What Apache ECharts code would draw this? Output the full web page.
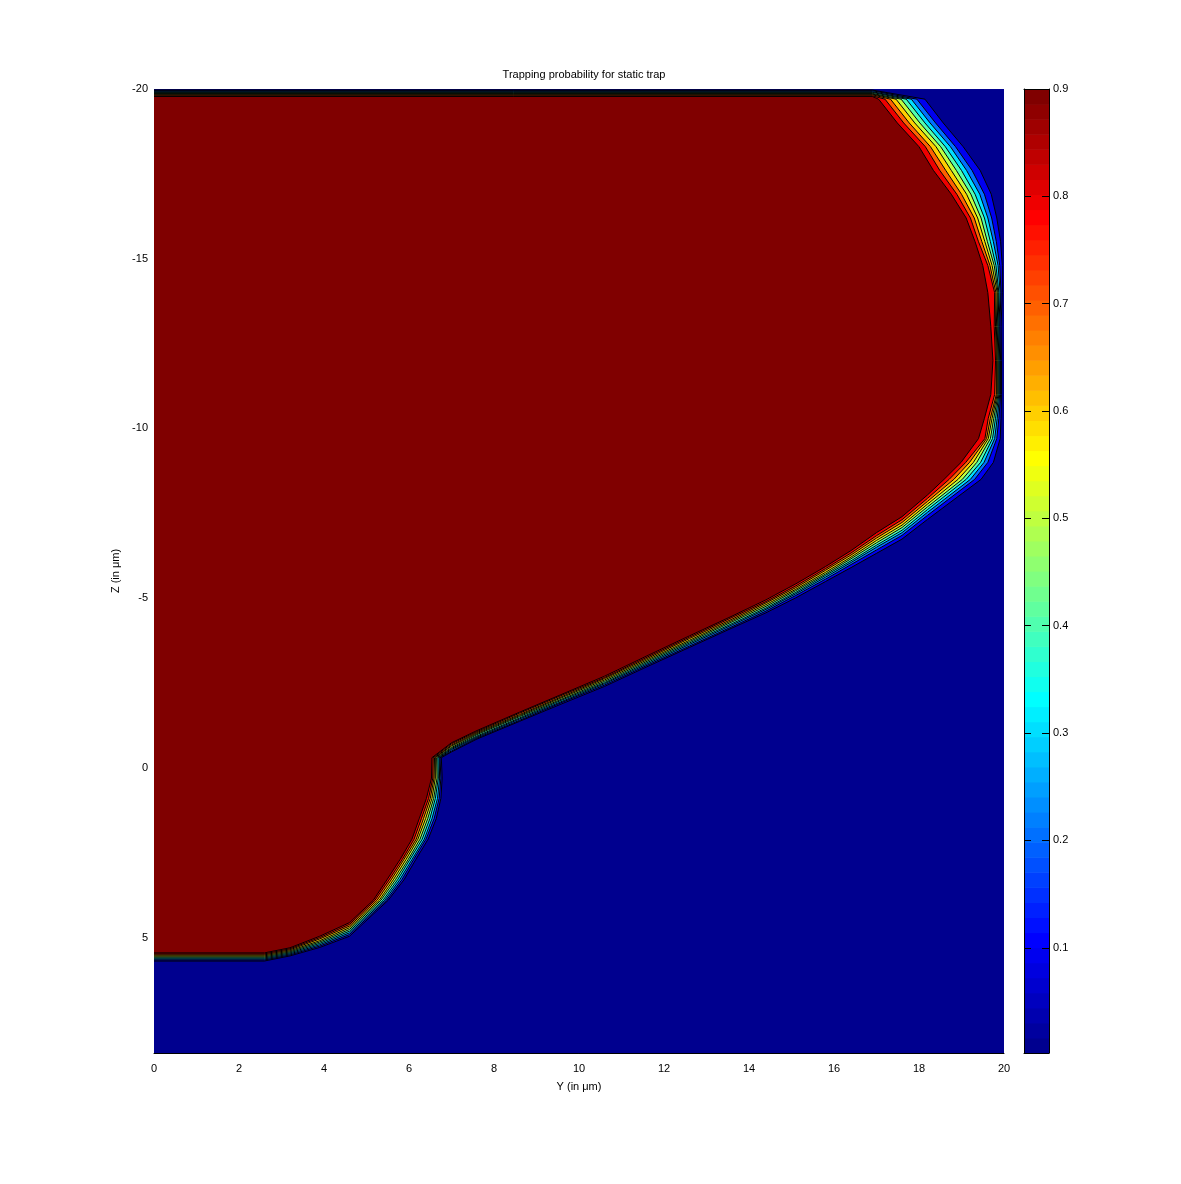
<!DOCTYPE html>
<html>
<head>
<meta charset="utf-8">
<script src="https://cdn.jsdelivr.net/npm/echarts@6.0.0/dist/echarts.min.js"></script>
<style>
  html, body { margin: 0; padding: 0; background: #fff; }
  #main { width: 1181px; height: 1184px; }
</style>
</head>
<body>
<div id="main"></div>
<script>
// contour levels and colour limits
var levels = [0.1, 0.2, 0.3, 0.4, 0.5, 0.6, 0.7, 0.8, 0.9];
var cMin = 0.002;
var cMax = 0.9;

var yTicks = [0, 2, 4, 6, 8, 10, 12, 14, 16, 18, 20];
var zTicks = [-20, -15, -10, -5, 0, 5];
var barTicks = [0.1, 0.2, 0.3, 0.4, 0.5, 0.6, 0.7, 0.8, 0.9];

// contour crossings
// each row: [fixed coord, crossing of level 0.1, 0.2, ... 0.9]
// "Cols" = fixed Y, values are Z ; "Rows" = fixed Z, values are Y
var topCols = [
  [0,    -19.97, -19.95, -19.92, -19.90, -19.87, -19.85, -19.83, -19.80, -19.78],
  [16.9, -19.97, -19.95, -19.92, -19.90, -19.87, -19.85, -19.83, -19.80, -19.78]
];
var rightRows = [
  [-19.7, 18.14, 17.95, 17.82, 17.70, 17.58, 17.46, 17.33, 17.20, 17.05],
  [-19.0, 18.57, 18.39, 18.26, 18.14, 18.02, 17.90, 17.77, 17.64, 17.49],
  [-18.3, 19.04, 18.86, 18.74, 18.62, 18.51, 18.40, 18.27, 18.15, 18.00],
  [-17.6, 19.44, 19.25, 19.12, 19.00, 18.88, 18.76, 18.63, 18.49, 18.34],
  [-16.9, 19.70, 19.54, 19.43, 19.32, 19.22, 19.12, 19.00, 18.89, 18.76],
  [-16.2, 19.83, 19.71, 19.62, 19.54, 19.46, 19.38, 19.30, 19.21, 19.11],
  [-15.5, 19.92, 19.82, 19.75, 19.68, 19.61, 19.55, 19.48, 19.40, 19.32],
  [-14.8, 19.96, 19.90, 19.86, 19.81, 19.77, 19.72, 19.67, 19.62, 19.50],
  [-14.0, 19.96, 19.93, 19.91, 19.88, 19.86, 19.84, 19.81, 19.78, 19.62],
  [-13.0, 19.93, 19.90, 19.88, 19.86, 19.84, 19.82, 19.80, 19.77, 19.69],
  [-12.0, 19.94, 19.92, 19.90, 19.88, 19.86, 19.84, 19.82, 19.80, 19.74],
  [-11.0, 19.94, 19.92, 19.90, 19.88, 19.86, 19.84, 19.82, 19.78, 19.69],
  [-10.3, 19.93, 19.88, 19.84, 19.80, 19.76, 19.72, 19.68, 19.63, 19.54],
  [-9.7,  19.91, 19.83, 19.78, 19.73, 19.68, 19.63, 19.59, 19.55, 19.40],
  [-9.0,  19.75, 19.62, 19.53, 19.45, 19.36, 19.28, 19.19, 19.10, 18.99],
  [-8.5,  19.46, 19.31, 19.21, 19.11, 19.02, 18.92, 18.82, 18.71, 18.59]
];
var diagCols = [
  [18.2, -7.32, -7.44, -7.53, -7.61, -7.69, -7.77, -7.85, -7.94, -8.04],
  [17.6, -6.74, -6.85, -6.93, -7.00, -7.08, -7.15, -7.23, -7.31, -7.40],
  [17.0, -6.32, -6.42, -6.50, -6.56, -6.63, -6.70, -6.77, -6.84, -6.93],
  [16.4, -5.90, -5.99, -6.05, -6.10, -6.16, -6.21, -6.27, -6.33, -6.40],
  [15.8, -5.49, -5.56, -5.62, -5.67, -5.71, -5.76, -5.82, -5.87, -5.93],
  [15.1, -5.01, -5.08, -5.13, -5.17, -5.22, -5.26, -5.31, -5.36, -5.42],
  [14.4, -4.57, -4.62, -4.67, -4.71, -4.76, -4.81, -4.86, -4.90, -4.95],
  [13.6, -4.12, -4.16, -4.21, -4.25, -4.30, -4.34, -4.38, -4.43, -4.47],
  [12.6, -3.55, -3.59, -3.64, -3.68, -3.72, -3.76, -3.81, -3.85, -3.89],
  [11.6, -2.98, -3.02, -3.06, -3.10, -3.14, -3.18, -3.22, -3.26, -3.30],
  [10.6, -2.40, -2.44, -2.48, -2.51, -2.55, -2.59, -2.63, -2.66, -2.70],
  [9.6,  -1.89, -1.93, -1.96, -2.00, -2.03, -2.07, -2.10, -2.14, -2.17],
  [8.6,  -1.37, -1.40, -1.44, -1.47, -1.51, -1.54, -1.57, -1.61, -1.64],
  [7.6,  -0.85, -0.88, -0.91, -0.94, -0.98, -1.01, -1.04, -1.07, -1.10],
  [7.0,  -0.47, -0.50, -0.54, -0.57, -0.60, -0.64, -0.67, -0.71, -0.74]
];
var notchRows = [
  [-0.3, 6.76, 6.73, 6.71, 6.68, 6.65, 6.62, 6.60, 6.57, 6.54],
  [0.3,  6.78, 6.75, 6.72, 6.69, 6.66, 6.62, 6.59, 6.56, 6.53],
  [0.9,  6.75, 6.71, 6.67, 6.62, 6.58, 6.54, 6.50, 6.46, 6.41],
  [1.5,  6.64, 6.59, 6.54, 6.49, 6.44, 6.39, 6.34, 6.29, 6.24],
  [2.1,  6.45, 6.40, 6.36, 6.31, 6.26, 6.21, 6.17, 6.12, 6.07],
  [2.7,  6.16, 6.11, 6.07, 6.02, 5.98, 5.93, 5.88, 5.84, 5.79],
  [3.3,  5.88, 5.83, 5.78, 5.73, 5.68, 5.63, 5.58, 5.53, 5.48],
  [3.9,  5.51, 5.47, 5.43, 5.39, 5.34, 5.30, 5.25, 5.20, 5.16]
];
var bottomCols = [
  [4.6, 4.96, 4.91, 4.86, 4.81, 4.76, 4.71, 4.66, 4.61, 4.56],
  [3.9, 5.29, 5.25, 5.21, 5.17, 5.13, 5.09, 5.04, 5.00, 4.96],
  [3.2, 5.54, 5.51, 5.48, 5.45, 5.42, 5.39, 5.36, 5.33, 5.30],
  [2.6, 5.69, 5.66, 5.63, 5.60, 5.57, 5.54, 5.51, 5.48, 5.45],
  [0,   5.69, 5.66, 5.63, 5.60, 5.57, 5.54, 5.51, 5.48, 5.45]
];

// matlab jet(64)
function jetU(j) {
  if (j < 1 || j > 47) return 0;
  if (j <= 16) return j / 16;
  if (j <= 31) return 1;
  return (48 - j) / 16;
}
function jetColor(i) {
  var r = Math.round(jetU(i - 24) * 255);
  var g = Math.round(jetU(i - 8) * 255);
  var b = Math.round(jetU(i + 8) * 255);
  return 'rgb(' + r + ',' + g + ',' + b + ')';
}
function colorOf(v) {
  var i = Math.floor((v - cMin) / (cMax - cMin) * 64 + 1e-9) + 1;
  return jetColor(Math.max(1, Math.min(64, i)));
}

// one closed path per level, walking round the boundary
function levelPath(k) {
  var pts = [];
  topCols.forEach(function (s) { pts.push([s[0], s[k + 1]]); });
  rightRows.forEach(function (s) { pts.push([s[k + 1], s[0]]); });
  diagCols.forEach(function (s) { pts.push([s[0], s[k + 1]]); });
  notchRows.forEach(function (s) { pts.push([s[k + 1], s[0]]); });
  bottomCols.forEach(function (s) { pts.push([s[0], s[k + 1]]); });
  return pts;
}
var paths = levels.map(function (v, k) { return levelPath(k); });

var barSteps = [];
for (var i = 0; i < 64; i++) barSteps.push([0.5, cMin + i * (cMax - cMin) / 64, i + 1]);

var font = 'Liberation Sans';
var chart = echarts.init(document.getElementById('main'));

var series = [
  {
    type: 'custom',
    xAxisIndex: 0,
    yAxisIndex: 0,
    silent: true,
    z: 1,
    data: levels.map(function (v, k) { return [k, v]; }),
    renderItem: function (params, api) {
      var k = api.value(0);
      return {
        type: 'polygon',
        shape: { points: paths[k].map(function (p) { return api.coord(p); }) },
        style: { fill: colorOf(levels[k]) }
      };
    }
  },
  {
    type: 'custom',
    xAxisIndex: 1,
    yAxisIndex: 1,
    silent: true,
    data: barSteps,
    renderItem: function (params, api) {
      var lo = api.value(1);
      var hi = lo + (cMax - cMin) / 64;
      var a = api.coord([0, hi]);
      var b = api.coord([1, lo]);
      return {
        type: 'rect',
        shape: { x: a[0], y: a[1], width: b[0] - a[0], height: b[1] - a[1] + 0.6 },
        style: { fill: jetColor(api.value(2)) }
      };
    }
  }
];
levels.forEach(function (v, k) {
  series.push({
    type: 'line',
    xAxisIndex: 0,
    yAxisIndex: 0,
    data: paths[k],
    showSymbol: false,
    symbol: 'none',
    silent: true,
    z: 3,
    lineStyle: { color: '#000', width: 1 }
  });
});

var option = {
  animation: false,
  backgroundColor: '#fff',
  textStyle: { fontFamily: font },
  title: {
    text: 'Trapping probability for static trap',
    left: 579,
    top: 64,
    textAlign: 'center',
    textStyle: { fontFamily: font, fontSize: 11, fontWeight: 'normal', color: '#000' }
  },
  grid: [
    { left: 154, top: 89, width: 850, height: 964, show: true, backgroundColor: colorOf(cMin), borderWidth: 0 },
    { left: 1024, top: 89, width: 25, height: 964 }
  ],
  xAxis: [
    {
      type: 'value', gridIndex: 0, min: 0, max: 20, z: 10, position: 'bottom',
      name: 'Y (in \u03bcm)', nameLocation: 'middle', nameGap: 28,
      nameTextStyle: { fontFamily: font, fontSize: 11, color: '#000' },
      axisLine: { show: true, onZero: false, lineStyle: { color: '#000', width: 1 } },
      axisTick: { show: false },
      splitLine: { show: false },
      axisLabel: { customValues: yTicks, margin: 10, fontFamily: font, fontSize: 11, color: '#000' }
    },
    {
      type: 'value', gridIndex: 1, min: 0, max: 1, z: 10, position: 'bottom',
      axisLine: { show: true, onZero: false, lineStyle: { color: '#000', width: 1 } },
      axisTick: { show: false }, axisLabel: { show: false }, splitLine: { show: false }
    },
    {
      type: 'value', gridIndex: 1, min: 0, max: 1, z: 10, position: 'top',
      axisLine: { show: true, onZero: false, lineStyle: { color: '#000', width: 1 } },
      axisTick: { show: false }, axisLabel: { show: false }, splitLine: { show: false }
    }
  ],
  yAxis: [
    {
      type: 'value', gridIndex: 0, min: -20, max: 8.4, inverse: true, z: 10,
      name: 'Z (in \u03bcm)', nameLocation: 'middle', nameGap: 28, nameRotate: 90,
      nameTextStyle: { fontFamily: font, fontSize: 11, color: '#000' },
      axisLine: { show: false, onZero: false },
      axisTick: { show: false },
      splitLine: { show: false },
      axisLabel: { customValues: zTicks, margin: 6, fontFamily: font, fontSize: 11, color: '#000' }
    },
    {
      type: 'value', gridIndex: 1, min: cMin, max: cMax, position: 'right', z: 10,
      axisLine: { show: true, onZero: false, lineStyle: { color: '#000', width: 1 } },
      axisTick: { show: true, inside: true, length: 7, customValues: barTicks, lineStyle: { color: '#000' } },
      splitLine: { show: false },
      axisLabel: { customValues: barTicks, margin: 4, fontFamily: font, fontSize: 11, color: '#000',
        formatter: function (v) { return v.toFixed(1); } }
    },
    {
      type: 'value', gridIndex: 1, min: cMin, max: cMax, position: 'left', z: 10,
      axisLine: { show: true, onZero: false, lineStyle: { color: '#000', width: 1 } },
      axisTick: { show: true, inside: true, length: 7, customValues: barTicks, lineStyle: { color: '#000' } },
      splitLine: { show: false },
      axisLabel: { show: false }
    }
  ],
  series: series
};
chart.setOption(option);
</script>
</body>
</html>
